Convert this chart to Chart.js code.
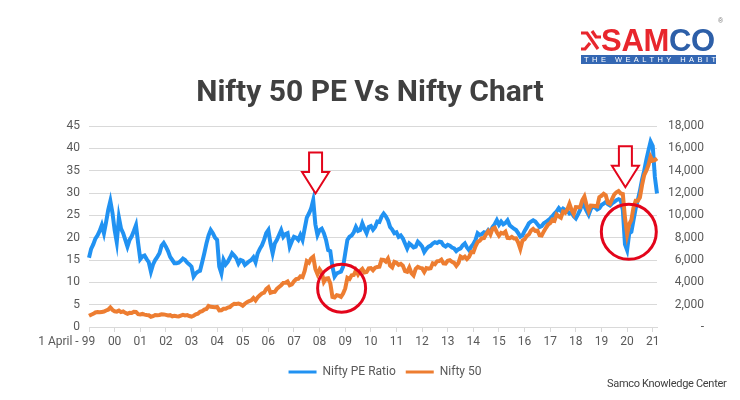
<!DOCTYPE html>
<html>
<head>
<meta charset="utf-8">
<script src="https://cdn.jsdelivr.net/npm/chart.js@4/dist/chart.umd.min.js"></script>
<style>
  body { margin: 0; background: #fff; }
  #wrap { position: relative; width: 740px; height: 400px; overflow: hidden; }
  #chart { position: absolute; left: 0; top: 0; }
  #title { position: absolute; left: 0; top: 73px; width: 740px; text-align: center;
           font: 700 30px Roboto, sans-serif; color: #404040; }
  #logo { position: absolute; left: 580px; top: 23px; width: 138px; height: 42px; }
  #logo .word { position: absolute; left: 21px; top: 0; font: 700 31px "Liberation Sans", Arial, sans-serif; letter-spacing: -0.3px; }
  #logo .red { color: #e8262d; }
  #logo .blue { color: #2d5fa8; }
  #logo svg { position: absolute; left: 1px; top: 6px; }
  #logo .band { position: absolute; left: 1px; top: 32px; width: 135px; height: 9px; background: #3467b3;
                color: #fff; font: 400 7.5px "Liberation Sans", Arial, sans-serif; line-height: 9px;
                letter-spacing: 3.45px; text-indent: 3px; white-space: nowrap; }
  #reg { position: absolute; left: 718px; top: 17px; font: 7px Arial, sans-serif; color: #777; }
  #footer { position: absolute; left: 607px; top: 377px; font: 11px Roboto, sans-serif; color: #404040; letter-spacing: -0.3px; }
</style>
</head>
<body>
<div id="wrap">
  <canvas id="chart" width="740" height="400"></canvas>
  <div id="title">Nifty 50 PE Vs Nifty Chart</div>
  <div id="logo">
    <svg width="20" height="22" viewBox="0 0 20 22">
      <path d="M0 4 H6 L17 20 M11 2 L15 8 H20 M9 14 L4 20 H0" fill="none" stroke="#e8262d" stroke-width="3.2"/>
    </svg>
    <div class="word"><span class="red">SAM</span><span class="blue">CO</span></div>
    <div class="band">THE WEALTHY HABIT</div>
  </div>
  <div id="reg">®</div>
  <div id="footer">Samco Knowledge Center</div>
</div>
<script>
// one tick label per April, starting April 1999
const yearLabels = ['1 April - 99', '00', '01', '02', '03', '04', '05', '06', '07', '08', '09',
  '10', '11', '12', '13', '14', '15', '16', '17', '18', '19', '20', '21'];

// monthly, April 1999 .. June 2021 (each row = April..March)
const peRatio = [
  15.5, 17.5, 18.5, 19.8, 20.5, 21.5, 22.8, 21.0, 23.5, 26.2, 28.2, 25.5,
  21.7, 19.0, 24.5, 22.0, 21.0, 19.5, 18.0, 19.5, 20.3, 21.5, 22.8, 18.8,
  15.2, 15.8, 16.0, 15.2, 14.5, 12.4, 14.0, 15.0, 15.7, 16.5, 18.2, 18.8,
  18.0, 17.0, 15.7, 15.0, 14.3, 14.3, 14.4, 14.8, 15.3, 15.0, 14.4, 14.0,
  13.5, 11.3, 12.0, 12.4, 12.6, 14.5, 16.5, 18.7, 20.5, 21.7, 21.0, 20.0,
  19.5, 13.5, 12.0, 15.0, 14.0, 14.6, 15.5, 16.5, 16.0, 15.4, 14.2, 15.0,
  14.8, 13.9, 14.3, 14.7, 15.0, 15.6, 14.5, 16.5, 17.5, 18.3, 19.5, 21.0,
  21.7, 18.7, 16.5, 18.7, 19.5, 20.6, 21.7, 20.2, 20.8, 21.0, 18.0, 19.2,
  20.2, 20.0, 19.5, 20.6, 19.5, 22.0, 24.5, 25.4, 26.5, 28.4, 23.0, 20.6,
  21.7, 22.0, 21.0, 19.5, 17.2, 17.0, 13.5, 11.3, 12.0, 12.2, 12.4, 13.5,
  16.5, 19.5, 20.2, 20.5, 21.2, 22.4, 21.5, 21.7, 23.2, 22.0, 21.0, 22.4,
  22.6, 21.8, 22.4, 23.6, 23.5, 24.7, 25.4, 24.8, 23.9, 22.4, 21.8, 21.0,
  21.2, 20.2, 20.5, 19.8, 18.7, 17.6, 18.7, 18.3, 17.8, 18.0, 19.1, 18.6,
  18.0, 16.8, 17.5, 18.0, 18.2, 18.7, 19.0, 18.8, 19.1, 19.0, 18.3, 18.0,
  18.4, 18.2, 17.8, 17.6, 17.0, 17.4, 17.6, 18.3, 18.7, 17.8, 17.2, 18.0,
  18.6, 19.5, 21.0, 20.6, 20.8, 21.2, 21.0, 21.7, 21.2, 22.4, 23.0, 23.9,
  22.9, 23.6, 23.0, 23.3, 23.9, 22.8, 22.4, 22.0, 21.7, 21.0, 20.2, 20.5,
  21.5, 22.3, 23.2, 23.6, 23.9, 23.6, 23.0, 22.4, 22.6, 23.2, 23.5, 23.9,
  24.3, 24.8, 25.4, 25.9, 26.6, 26.0, 26.5, 26.2, 26.0, 25.4, 25.6, 24.8,
  24.3, 25.2, 26.2, 27.7, 27.0, 26.0, 25.1, 26.4, 27.0, 26.8, 26.3, 26.6,
  27.3, 27.6, 28.0, 27.5, 27.2, 27.7, 28.0, 28.4, 28.6, 28.4, 26.2, 18.5,
  17.2, 21.0, 21.3, 23.9, 26.5, 28.4, 30.5, 33.0, 35.0, 37.4, 39.5, 41.5,
  40.5, 33.6, 29.9
];

const nifty50 = [
  1000, 1100, 1180, 1300, 1340, 1320, 1350, 1380, 1480, 1550, 1750, 1530,
  1410, 1380, 1470, 1340, 1400, 1270, 1180, 1270, 1260, 1370, 1350, 1150,
  1130, 1170, 1110, 1070, 1050, 920, 970, 1070, 1060, 1075, 1140, 1130,
  1085, 1030, 1060, 960, 1010, 965, 950, 1025, 1095, 1040, 1065, 980,
  935, 1005, 1135, 1185, 1355, 1420, 1555, 1615, 1880, 1810, 1800, 1770,
  1795, 1485, 1505, 1630, 1630, 1745, 1785, 1960, 2080, 2060, 2100, 2035,
  1900, 2085, 2220, 2310, 2385, 2600, 2370, 2650, 2835, 3000, 3075, 3400,
  3555, 3070, 3130, 3145, 3415, 3590, 3745, 3955, 3965, 4080, 3745, 3820,
  4085, 4295, 4320, 4530, 4465, 5020, 5900, 5760, 6140, 6300, 5200, 4735,
  5165, 4870, 4040, 4330, 4360, 3920, 2700, 2650, 2850, 2800, 2700, 3000,
  3450, 4400, 4290, 4635, 4660, 5080, 4710, 5030, 5200, 4880, 4920, 5250,
  5280, 5085, 5310, 5370, 5400, 6030, 6015, 5860, 6135, 5505, 5335, 5835,
  5750, 5560, 5645, 5480, 5000, 4945, 5325, 4830, 4625, 5200, 5385, 5295,
  5250, 4925, 5280, 5230, 5260, 5705, 5620, 5880, 5905, 6035, 5695, 5680,
  5930, 5985, 5840, 5740, 5470, 5735, 6300, 6175, 6305, 6090, 6275, 6705,
  6695, 7230, 7610, 7720, 7955, 7965, 8320, 8590, 8280, 8810, 8900, 8490,
  8180, 8435, 8370, 8530, 7970, 7950, 8065, 7935, 7945, 7565, 6990, 7740,
  7850, 8160, 8290, 8640, 8785, 8610, 8625, 8225, 8185, 8560, 8880, 9175,
  9305, 9620, 9520, 10075, 9915, 9790, 10335, 10225, 10530, 11030, 10490, 10115,
  10740, 10735, 10715, 11355, 11680, 10930, 10385, 10875, 10860, 10830, 10790, 11625,
  11750, 11920, 11790, 11120, 11025, 11475, 11875, 12055, 12170, 11960, 11900, 9800,
  8300, 9200, 9600, 10700, 11300, 11300, 11600, 12700, 13600, 14000, 14500, 15250,
  14900, 14950, 15100
];

// red call-outs: month index + PE value (left axis)
const arrowMarks = [{ month: 106.1, pe: 29.9 }, { month: 251.2, pe: 31.3 }];
const circleMarks = [{ month: 118.3, pe: 8.7, r: 24 }, { month: 252.8, pe: 21.3, r: 27.5 }];

const blue = '#2192f2';
const orange = '#ed7d31';
const red = '#e3051b';
const gray = '#595959';
const gridColor = '#d9d9d9';
const tickFont = { family: 'Roboto', size: 12 };

const monthLabels = peRatio.map((_, i) => (i % 12 === 0 ? yearLabels[i / 12] : ''));

// the first label hangs to the left of its tick, as in the original,
// so pad it on the right with no-break spaces
const measure = document.createElement('canvas').getContext('2d');
measure.font = '12px Roboto';
function hangLeft(label) {
  const w = measure.measureText(label).width;
  const sp = measure.measureText('\u00a0').width;
  return label + '\u00a0'.repeat(Math.max(0, Math.round((w - 12) / sp)));
}

const callouts = {
  id: 'callouts',
  afterDatasetsDraw(chart) {
    const { ctx, scales: { x, y } } = chart;
    ctx.save();
    ctx.strokeStyle = red;
    ctx.lineJoin = 'miter';

    ctx.lineWidth = 3;
    circleMarks.forEach(c => {
      ctx.beginPath();
      ctx.arc(x.getPixelForValue(c.month), y.getPixelForValue(c.pe), c.r, 0, Math.PI * 2);
      ctx.stroke();
    });

    ctx.lineWidth = 2;
    ctx.fillStyle = '#fff';
    arrowMarks.forEach(a => {
      const cx = x.getPixelForValue(a.month);
      const ty = y.getPixelForValue(a.pe);
      ctx.beginPath();
      ctx.moveTo(cx, ty);
      ctx.lineTo(cx - 13.5, ty - 21.5);
      ctx.lineTo(cx - 6.5, ty - 21.5);
      ctx.lineTo(cx - 6.5, ty - 41);
      ctx.lineTo(cx + 6.5, ty - 41);
      ctx.lineTo(cx + 6.5, ty - 21.5);
      ctx.lineTo(cx + 13.5, ty - 21.5);
      ctx.closePath();
      ctx.fill();
      ctx.stroke();
    });
    ctx.restore();
  }
};

new Chart(document.getElementById('chart'), {
  type: 'line',
  data: {
    labels: monthLabels,
    datasets: [
      {
        label: 'Nifty PE Ratio', data: peRatio, yAxisID: 'y',
        borderColor: blue, backgroundColor: blue, borderWidth: 4,
        pointRadius: 0, tension: 0, order: 2
      },
      {
        label: 'Nifty 50', data: nifty50, yAxisID: 'y1',
        borderColor: orange, backgroundColor: orange, borderWidth: 4,
        pointRadius: 0, tension: 0, order: 1
      }
    ]
  },
  options: {
    responsive: false,
    animation: false,
    layout: { padding: { top: 126, left: 66, right: 36, bottom: 12 } },
    scales: {
      x: {
        grid: { drawOnChartArea: false, color: gridColor, tickLength: 5 },
        border: { color: gridColor },
        ticks: {
          autoSkip: false, maxRotation: 0, padding: 3, color: gray, font: tickFont,
          callback(v, i) {
            const l = this.getLabelForValue(v);
            if (l === '') return null;
            return i === 0 ? hangLeft(l) : l;
          }
        },
        afterFit(s) { s.height = 29; }
      },
      y: {
        position: 'left', min: 0, max: 45,
        ticks: { stepSize: 5, padding: 9, color: gray, font: tickFont },
        grid: { color: gridColor, drawTicks: false },
        border: { display: false },
        afterFit(s) { s.width = 23; }
      },
      y1: {
        position: 'right', min: 0, max: 18000,
        ticks: {
          stepSize: 2000, padding: 9, color: gray, font: tickFont, crossAlign: 'far',
          callback: v => (v === 0 ? '-' : v.toLocaleString('en-US'))
        },
        grid: { display: false, drawTicks: false },
        border: { display: false },
        afterFit(s) { s.width = 47; }
      }
    },
    plugins: {
      legend: {
        position: 'bottom',
        labels: {
          boxWidth: 28, boxHeight: 3, padding: 10, color: gray,
          font: { family: 'Roboto', size: 12 },
          sort: (a, b) => a.datasetIndex - b.datasetIndex,
          generateLabels: chart => Chart.defaults.plugins.legend.labels.generateLabels(chart)
            .map(l => Object.assign(l, { lineWidth: 0 }))
        }
      },
      tooltip: { enabled: false }
    }
  },
  plugins: [callouts]
});
</script>
</body>
</html>
